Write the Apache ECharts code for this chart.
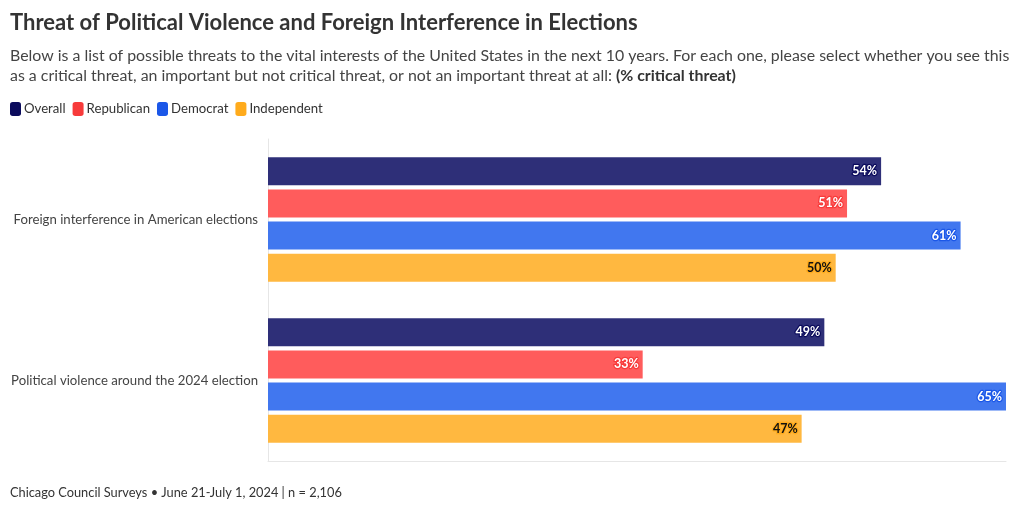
<!DOCTYPE html>
<html><head><meta charset="utf-8">
<script src="https://cdn.jsdelivr.net/npm/echarts@6/dist/echarts.min.js"></script>
<style>html,body{margin:0;padding:0;background:#fff}#c{width:1020px;height:511px}</style>
</head><body><div id="c"></div>
<script>
const categories = ['Foreign interference in American elections', 'Political violence around the 2024 election'];
const seriesNames = ['Overall', 'Republican', 'Democrat', 'Independent'];
const overall = [54, 49];
const republican = [51, 33];
const democrat = [61, 65];
const independent = [50, 47];

const values = [overall, republican, democrat, independent];
const barColors = ['#2e2f78', '#ff5c5c', '#4177ef', '#ffb840'];
const legendColors = ['#0b0b5c', '#f73b3b', '#1b57e8', '#ffab1c'];
const labelText = ['#ffffff', '#ffffff', '#ffffff', '#111111'];
const labelStroke = ['#0b0b5c', '#f73b3b', '#1b57e8', '#ffab1c'];
const FONT = 'Lato, "Noto Sans", sans-serif';

const chart = echarts.init(document.getElementById('c'));
chart.setOption({
  animation: false,
  textStyle: { fontFamily: FONT },
  title: [
    { text: 'Threat of Political Violence and Foreign Interference in Elections', left: 10, top: 12, padding: 0,
      textStyle: { fontSize: 22, fontWeight: 'bold', color: '#333', fontFamily: FONT } },
    { text: '{n|Below is a list of possible threats to the vital interests of the United States in the next 10 years. For each one, please select whether you see this}\n{n|as a critical threat, an important but not critical threat, or not an important threat at all: }{b|(% critical threat)}',
      left: 10, top: 46, padding: 0,
      textStyle: { fontWeight: 'normal', rich: {
        n: { fontSize: 15.9, color: '#444', fontWeight: 'normal', lineHeight: 20, fontFamily: FONT },
        b: { fontSize: 15.9, color: '#333', fontWeight: 'bold', lineHeight: 20, fontFamily: FONT }
      } } },
    { text: 'Chicago Council Surveys • June 21-July 1, 2024 | n = 2,106', left: 10, top: 486, padding: 0,
      textStyle: { fontSize: 12.8, fontWeight: 'normal', color: '#333', fontFamily: FONT } }
  ],
  legend: {
    left: 10, top: 102, padding: 0, itemWidth: 11, itemHeight: 14, itemGap: 7, icon: 'roundRect',
    textStyle: { fontSize: 13.2, color: '#333', padding: [0, 0, 0, -2] },
    data: seriesNames.map((n, i) => ({ name: n, itemStyle: { color: legendColors[i] } }))
  },
  grid: { left: 268, right: 14, top: 139, bottom: 50, containLabel: false },
  xAxis: {
    type: 'value', min: 0, max: 65,
    axisLine: { show: true, lineStyle: { color: '#e6e6e6' } },
    axisTick: { show: false }, axisLabel: { show: false }, splitLine: { show: false }
  },
  yAxis: {
    type: 'category', data: categories, inverse: true,
    axisLine: { show: true, lineStyle: { color: '#e6e6e6' } },
    axisTick: { show: false },
    axisLabel: { fontSize: 13.2, color: '#444', margin: 10 }
  },
  series: seriesNames.map((n, i) => ({
    name: n, type: 'bar', data: values[i], barWidth: 28, barGap: '15%',
    itemStyle: { color: barColors[i] },
    label: {
      show: true, position: 'insideRight', distance: 4, formatter: '{c}%',
      fontSize: 12.5, fontWeight: 'bold', color: labelText[i],
      textBorderColor: labelStroke[i], textBorderWidth: 2.5
    }
  }))
});
</script></body></html>
